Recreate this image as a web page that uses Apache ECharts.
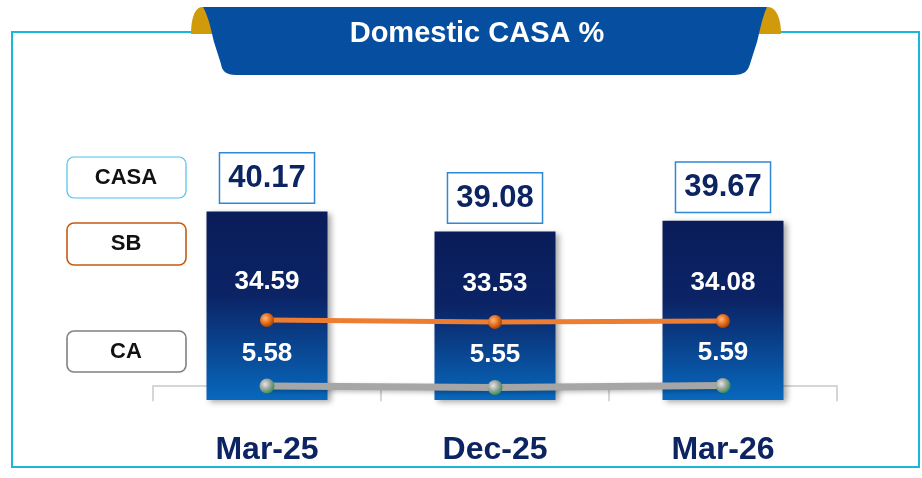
<!DOCTYPE html>
<html>
<head>
<meta charset="utf-8">
<style>
  html, body { margin: 0; padding: 0; background: #fff; }
  #chart { width: 922px; height: 478px; }
</style>
<script src="https://cdn.jsdelivr.net/npm/echarts@6/dist/echarts.min.js"></script>
</head>
<body>
<div id="chart"></div>
<script>
const categories = ["Mar-25", "Dec-25", "Mar-26"];
const casaValues = [40.17, 39.08, 39.67];
const sbValues = [34.59, 33.53, 34.08];
const caValues = [5.58, 5.55, 5.59];
const legendNames = ["CASA", "SB", "CA"];

const NAVY = "#0c2461";
const FONT = "'Liberation Sans', Arial, sans-serif";

var chart = echarts.init(document.getElementById("chart"), null, { renderer: "canvas" });

//图例框
function legendBox(name, y, h, stroke, lw) {
    return [
        {
            type: "rect",
            shape: { x: 67, y: y, width: 119, height: h, r: 7 },
            style: { fill: "#fff", stroke: stroke, lineWidth: lw },
            z: 10,
        },
        {
            type: "text",
            x: 126,
            y: y + h / 2,
            style: {
                text: name,
                fill: "#111",
                font: "bold 22px " + FONT,
                textAlign: "center",
                textVerticalAlign: "middle",
            },
            z: 11,
        },
    ];
}

//贝塞尔曲线采样成折线点
function curve(p0, c1, c2, p1, n) {
    var pts = [];
    for (var i = 1; i <= n; i++) {
        var t = i / n, u = 1 - t;
        pts.push([
            u * u * u * p0[0] + 3 * u * u * t * c1[0] + 3 * u * t * t * c2[0] + t * t * t * p1[0],
            u * u * u * p0[1] + 3 * u * u * t * c1[1] + 3 * u * t * t * c2[1] + t * t * t * p1[1],
        ]);
    }
    return pts;
}

function sphere(light, mid, dark) {
    return {
        type: "radial",
        x: 0.38,
        y: 0.38,
        r: 0.7,
        colorStops: [
            { offset: 0, color: light },
            { offset: 0.5, color: mid },
            { offset: 1, color: dark },
        ],
    };
}

var leftTab = [[191, 34]].concat(curve([191, 34], [191, 16], [196, 7], [202, 7], 12), curve([202, 7], [208, 7], [211, 18], [214, 34], 12));
var rightTab = [[758, 34]].concat(curve([758, 34], [761, 18], [763, 7], [768, 7], 12), curve([768, 7], [775, 7], [781, 16], [781, 34], 12));
var ribbon = [[203, 7], [767, 7]].concat(
    curve([767, 7], [762, 18], [760, 30], [757, 42], 10),
    [[750, 64]],
    curve([750, 64], [748, 71], [744, 75], [734, 75], 8),
    [[236, 75]],
    curve([236, 75], [226, 75], [222, 71], [221, 64], 8),
    [[214, 42]],
    curve([214, 42], [211, 30], [209, 18], [203, 7], 10)
);

var option = {
    backgroundColor: "#fff",
    animation: false,
    grid: { left: 153, right: 85, top: 100, bottom: 78 },
    xAxis: {
        type: "category",
        data: categories,
        axisLine: { lineStyle: { color: "#d6d6d6", width: 2 } },
        axisTick: { show: true, length: 16, lineStyle: { color: "#d6d6d6", width: 2 } },
        axisLabel: {
            margin: 34,
            color: NAVY,
            fontSize: 32,
            fontWeight: "bold",
            fontFamily: FONT,
        },
    },
    yAxis: [
        { type: "value", min: 29.9, max: 46.25, show: false, splitLine: { show: false } },
        { type: "value", min: -7.8, max: 151.2, show: false, splitLine: { show: false } },
        { type: "value", min: 5.3, max: 11.3, show: false, splitLine: { show: false } },
    ],
    series: [
        {
            name: legendNames[0],
            type: "bar",
            yAxisIndex: 0,
            data: casaValues,
            barWidth: 121,
            itemStyle: {
                color: {
                    type: "linear",
                    x: 0, y: 0, x2: 0, y2: 1,
                    colorStops: [
                        { offset: 0, color: "#0a1c59" },
                        { offset: 0.45, color: "#0b2466" },
                        { offset: 1, color: "#0868bd" },
                    ],
                },
                shadowColor: "rgba(0,0,0,0.35)",
                shadowBlur: 6,
                shadowOffsetX: 3,
                shadowOffsetY: 2,
            },
            label: {
                show: true,
                position: "top",
                distance: 9,
                color: NAVY,
                fontSize: 31,
                fontWeight: "bold",
                fontFamily: FONT,
                backgroundColor: "#fff",
                borderColor: "#2f88d4",
                borderWidth: 1.5,
                padding: [9, 8, 9, 8],
                formatter: p => p.value.toFixed(2),
            },
            z: 2,
        },
        {
            name: legendNames[1],
            type: "line",
            yAxisIndex: 1,
            data: sbValues,
            symbol: "circle",
            symbolSize: 14,
            lineStyle: { color: "#ed7d31", width: 5 },
            itemStyle: { color: sphere("#f9b983", "#e8701b", "#8f3a05") },
            label: {
                show: true,
                position: "top",
                distance: 18,
                color: "#fff",
                fontSize: 26,
                fontWeight: "bold",
                fontFamily: FONT,
                formatter: p => p.value.toFixed(2),
            },
            z: 4,
        },
        {
            name: legendNames[2],
            type: "line",
            yAxisIndex: 2,
            data: caValues,
            symbol: "circle",
            symbolSize: 15,
            lineStyle: {
                color: "#a6a6a6",
                width: 7,
                shadowColor: "rgba(0,0,0,0.25)",
                shadowBlur: 4,
                shadowOffsetY: 2,
            },
            itemStyle: { color: sphere("#e6e6e6", "#9aa59c", "#1f8a45") },
            label: {
                show: true,
                position: "top",
                distance: 12,
                color: "#fff",
                fontSize: 26,
                fontWeight: "bold",
                fontFamily: FONT,
                formatter: p => p.value.toFixed(2),
            },
            z: 4,
        },
    ],
    graphic: [
        //外框
        {
            type: "rect",
            shape: { x: 12, y: 32, width: 907, height: 435 },
            style: { fill: "none", stroke: "#1ab7dc", lineWidth: 2 },
            z: 0,
        },
        //标题丝带
        { type: "polygon", shape: { points: leftTab }, style: { fill: "#d09a0a" }, z: 20 },
        { type: "polygon", shape: { points: rightTab }, style: { fill: "#d09a0a" }, z: 20 },
        { type: "polygon", shape: { points: ribbon }, style: { fill: "#064fa0" }, z: 21 },
        {
            type: "text",
            x: 477,
            y: 34,
            style: {
                text: "Domestic CASA %",
                fill: "#fff",
                font: "bold 29px " + FONT,
                textAlign: "center",
                textVerticalAlign: "middle",
            },
            z: 22,
        },
    ]
        .concat(legendBox(legendNames[0], 157, 41, "#4cc3ea", 1.2))
        .concat(legendBox(legendNames[1], 223, 42, "#c55a11", 1.6))
        .concat(legendBox(legendNames[2], 331, 41, "#808080", 1.6)),
};

chart.setOption(option);
</script>
</body>
</html>
